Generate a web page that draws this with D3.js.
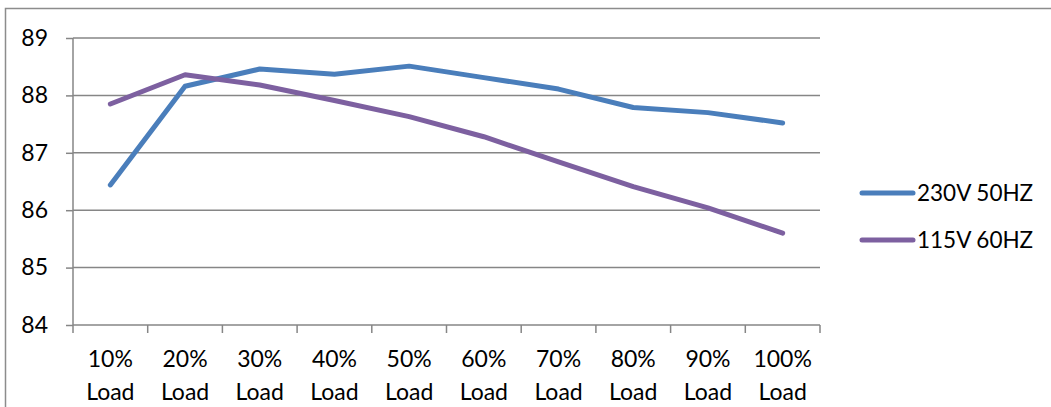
<!DOCTYPE html>
<html><head><meta charset="utf-8">
<script src="https://cdn.jsdelivr.net/npm/d3@7/dist/d3.min.js"></script>
<style>body{margin:0;background:#fff}svg{display:block}text{font-family:Lato,"Open Sans",sans-serif;fill:#000}</style>
</head><body>
<svg id="c" width="1051" height="407"></svg>
<script>
const categories = ["10%","20%","30%","40%","50%","60%","70%","80%","90%","100%"];
const seriesNames = ["230V 50HZ","115V 60HZ"];
const values230 = [86.44,88.16,88.46,88.37,88.51,88.31,88.11,87.79,87.70,87.52];
const values115 = [87.85,88.36,88.18,87.91,87.63,87.28,86.84,86.41,86.04,85.60];
const yTicks = [84,85,86,87,88,89];
const colors = ["#4A7EBB","#7D60A0"];

const svg = d3.select("#c");
const L = 73, R = 820, T = 38, B = 325;
const x = d3.scaleBand().domain(categories).range([L,R]);
const y = d3.scaleLinear().domain([84,89]).range([B,T]);
const grey = "#868686";
const FS = 23;

// frame
svg.append("path").attr("d","M5.5,407 L5.5,8.5 L1051,8.5").attr("fill","none").attr("stroke","#8c8c8c").attr("stroke-width",1.5);

// gridlines
svg.append("g").selectAll("line").data(yTicks.filter(d=>d>84)).join("line")
  .attr("x1",L).attr("x2",R).attr("y1",d=>y(d)).attr("y2",d=>y(d))
  .attr("stroke",grey).attr("stroke-width",1.5);

// y axis
const ya = svg.append("g").attr("transform",`translate(${L},0)`)
  .call(d3.axisLeft(y).tickValues(yTicks).tickSize(7).tickPadding(18).tickFormat(d3.format("d")));
ya.select(".domain").attr("stroke",grey).attr("stroke-width",1.5).attr("d",`M0,${T}V${B}`);
ya.selectAll(".tick line").attr("stroke",grey).attr("stroke-width",1.5);
ya.selectAll(".tick text").attr("font-size",FS).attr("font-family","Lato,'Open Sans',sans-serif").attr("fill","#000");

// x axis
const xa = svg.append("g").attr("transform",`translate(0,${B})`)
  .call(d3.axisBottom(x).tickSize(0).tickFormat(""));
xa.select(".domain").attr("stroke",grey).attr("stroke-width",1.5).attr("d",`M${L},0H${R}`);
const bounds = categories.map(c=>x(c)).concat([R]);
svg.append("g").selectAll("line").data(bounds).join("line")
  .attr("x1",d=>d).attr("x2",d=>d).attr("y1",B).attr("y2",B+8)
  .attr("stroke",grey).attr("stroke-width",1.5);
const lab = svg.append("g").selectAll("text").data(categories).join("text")
  .attr("x",d=>x(d)+x.bandwidth()/2).attr("text-anchor","middle").attr("font-size",FS);
lab.append("tspan").attr("x",d=>x(d)+x.bandwidth()/2).attr("y",367).text(d=>d);
lab.append("tspan").attr("x",d=>x(d)+x.bandwidth()/2).attr("y",400).text("Load");

// lines
const line = d3.line().x((d,i)=>x(categories[i])+x.bandwidth()/2).y(d=>y(d));
[values230, values115].forEach((vals,i)=>{
  svg.append("path").datum(vals).attr("d",line).attr("fill","none")
    .attr("stroke",colors[i]).attr("stroke-width",5).attr("stroke-linecap","round").attr("stroke-linejoin","round");
});

// legend
const lg = svg.append("g");
seriesNames.forEach((n,i)=>{
  const yy = 193 + i*47;
  lg.append("line").attr("x1",862).attr("x2",913).attr("y1",yy).attr("y2",yy)
    .attr("stroke",colors[i]).attr("stroke-width",5).attr("stroke-linecap","round");
  lg.append("text").attr("x",917).attr("y",yy+8).attr("font-size",22.5).text(n);
});
</script>
</body></html>
